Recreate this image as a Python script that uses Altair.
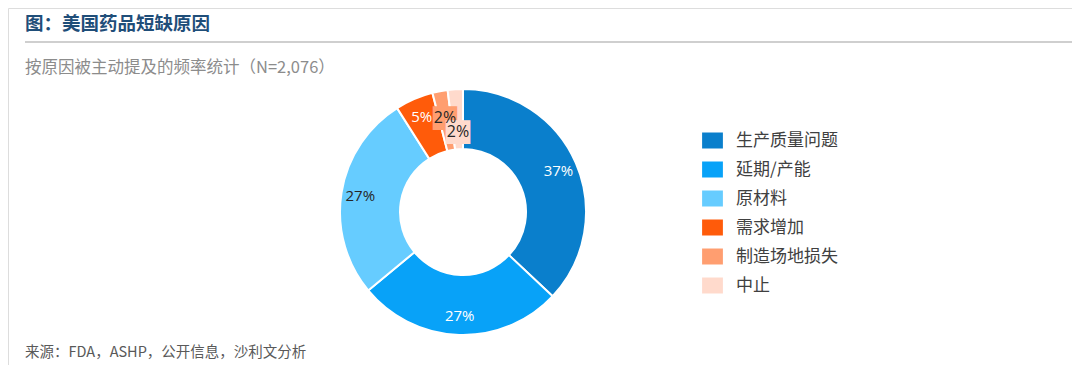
import altair as alt
import pandas as pd

categories = ["生产质量问题", "延期/产能", "原材料", "需求增加", "制造场地损失", "中止"]
values = [37, 27, 27, 5, 2, 2]
labels = ["37%", "27%", "27%", "5%", "2%", "2%"]
colors = ["#0A7FCC", "#08A2F8", "#66CCFF", "#FF5B0A", "#FF9E70", "#FFDACC"]
label_colors = ["#FFFFFF", "#FFFFFF", "#262626", "#FFFFFF", "#262626", "#262626"]

title_text = "图：美国药品短缺原因"
subtitle_text = "按原因被主动提及的频率统计（N=2,076）"
source_text = "来源：FDA，ASHP，公开信息，沙利文分析"

df = pd.DataFrame({
    "cat": categories,
    "value": values,
    "label": labels,
    "idx": list(range(len(categories))),
    "lc": label_colors,
})

CX, CY = 455, 204
FONT = "Noto Sans CJK SC"

base = alt.Chart(df).encode(
    theta=alt.Theta("value:Q", stack=True),
    order=alt.Order("idx:O"),
    x=alt.value(CX),
    y=alt.value(CY),
)

color_scale = alt.Scale(domain=categories, range=colors)

arcs = base.mark_arc(outerRadius=123, innerRadius=63, stroke="white", strokeWidth=2).encode(
    color=alt.Color(
        "cat:N",
        scale=color_scale,
        sort=categories,
        legend=alt.Legend(
            title=None,
            orient="none",
            legendX=696,
            legendY=124,
            symbolType="M-1.3,-1L1.3,-1L1.3,1L-1.3,1Z",
            symbolSize=256,
            symbolStrokeWidth=0,
            labelFont=FONT,
            labelFontSize=17,
            labelColor="#404040",
            labelOffset=15,
            rowPadding=11,
        ),
    )
)

main_text = base.mark_text(radius=104, font="Open Sans", fontSize=15).encode(
    text=alt.condition("datum.idx < 4", alt.Text("label:N"), alt.value("")),
    color=alt.Color("lc:N", scale=None),
)

BLOCK = "\u2588\u2588"
bg1 = base.mark_text(radius=96, font="DejaVu Sans Mono", fontSize=20, baseline="middle", dy=1).encode(
    text=alt.condition("datum.idx == 4", alt.value(BLOCK), alt.value("")),
    color=alt.value("#FF9E70"),
)
bg2 = base.mark_text(radius=80, font="DejaVu Sans Mono", fontSize=20, baseline="middle", dy=1).encode(
    text=alt.condition("datum.idx == 5", alt.value(BLOCK), alt.value("")),
    color=alt.value("#FFDACC"),
)
t1 = base.mark_text(radius=96, font="Open Sans", fontSize=16, color="#262626").encode(
    text=alt.condition("datum.idx == 4", alt.Text("label:N"), alt.value(""))
)
t2 = base.mark_text(radius=80, font="Open Sans", fontSize=16, color="#262626").encode(
    text=alt.condition("datum.idx == 5", alt.Text("label:N"), alt.value(""))
)

title = alt.Chart(pd.DataFrame({"t": [title_text]})).mark_text(
    align="left", baseline="middle", font=FONT, fontSize=18.5, fontWeight="bold", color="#1F4E79"
).encode(text="t:N", x=alt.value(17), y=alt.value(16))

rule = alt.Chart(pd.DataFrame({"a": [0]})).mark_rule(color="#BFBFBF", strokeWidth=1.5).encode(
    x=alt.value(17), x2=alt.value(1064), y=alt.value(34)
)

subtitle = alt.Chart(pd.DataFrame({"t": [subtitle_text]})).mark_text(
    align="left", baseline="middle", font=FONT, fontSize=16.5, color="#8C8C8C"
).encode(text="t:N", x=alt.value(17), y=alt.value(60))

source = alt.Chart(pd.DataFrame({"t": [source_text]})).mark_text(
    align="left", baseline="middle", font=FONT, fontSize=14.5, color="#595959"
).encode(text="t:N", x=alt.value(17), y=alt.value(345))

chart = alt.layer(arcs, main_text, bg1, bg2, t1, t2, title, rule, subtitle, source).properties(
    width=1064, height=357, autosize=alt.AutoSizeParams(type="none"), padding=0
).configure_view(stroke=None).configure(background="white")

chart.save("out.html", embed_options={"renderer": "svg", "actions": False})
